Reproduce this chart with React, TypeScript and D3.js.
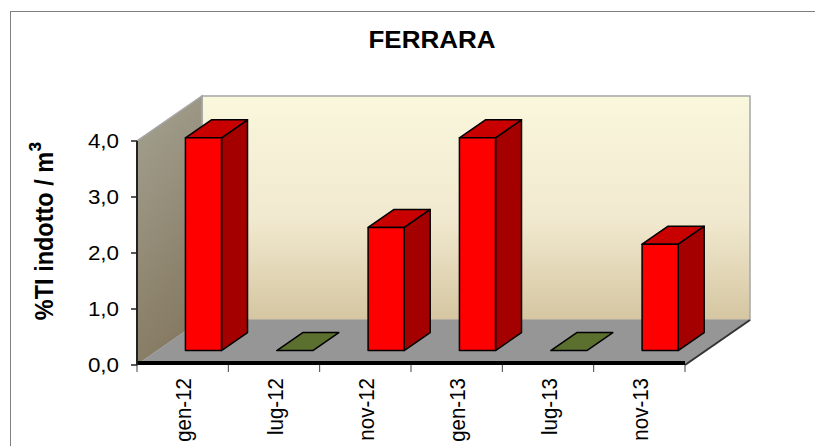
import React from "react";
import * as d3 from "d3";

const title = "FERRARA";
const yLabel = "%TI indotto / m³";
const categories = ["gen-12", "lug-12", "nov-12", "gen-13", "lug-13", "nov-13"];
const values = [3.8, 0, 2.2, 3.8, 0, 1.9];
const yTicks = [0, 1, 2, 3, 4];
const tickLabels = ["0,0", "1,0", "2,0", "3,0", "4,0"];

const W = 815;
const H = 446;

export default function App() {
  // plot geometry (front plane)
  const x0 = 137, x1 = 685;
  const yBottom = 365, yTop = 141;
  const depthDx = 65, depthDy = -45;

  const x = d3.scaleBand<string>().domain(categories).range([x0, x1]).padding(0);
  const y = d3.scaleLinear().domain([0, 4]).range([yBottom, yTop]);

  const barW = x.bandwidth() * 0.395;
  const dStart = 0.32;
  const dLen = 0.4;
  const fdx = dStart * depthDx, fdy = dStart * depthDy;
  const bdx = dLen * depthDx, bdy = dLen * depthDy;

  const line = d3.line();

  const backWall: [number, number][] = [
    [x0 + depthDx, yTop + depthDy],
    [x1 + depthDx, yTop + depthDy],
    [x1 + depthDx, yBottom + depthDy],
    [x0 + depthDx, yBottom + depthDy],
  ];
  const sideWall: [number, number][] = [
    [x0, yBottom],
    [x0, yTop],
    [x0 + depthDx, yTop + depthDy],
    [x0 + depthDx, yBottom + depthDy],
  ];
  const floor: [number, number][] = [
    [x0, yBottom],
    [x1, yBottom],
    [x1 + depthDx, yBottom + depthDy],
    [x0 + depthDx, yBottom + depthDy],
  ];

  const font = "Arial, 'Liberation Sans', Helvetica, sans-serif";
  const labelMain = yLabel.slice(0, -1);
  const labelSup = yLabel.slice(-1);

  return (
    <svg
      width={W}
      height={H}
      style={{ position: "absolute", left: 0, top: 0, background: "#fff" }}
    >
      <defs>
        <linearGradient id="backGrad" x1="0" y1="0" x2="0" y2="1">
          <stop offset="0" stopColor="#f9f7dc" />
          <stop offset="0.55" stopColor="#f1e9cf" />
          <stop offset="1" stopColor="#d5c6a1" />
        </linearGradient>
        <linearGradient id="sideGrad" x1="0" y1="0" x2="0.3" y2="1">
          <stop offset="0" stopColor="#a4a292" />
          <stop offset="1" stopColor="#867a62" />
        </linearGradient>
      </defs>

      {/* outer chart border */}
      <rect x={10.5} y={11.5} width={900} height={600} fill="none" stroke="#808080" strokeWidth={1} />

      {/* title */}
      <text
        transform="translate(432, 48) scale(1.13, 1)"
        textAnchor="middle"
        fontFamily={font}
        fontWeight="bold"
        fontSize={23}
      >
        {title}
      </text>

      {/* walls */}
      <path d={line(backWall)! + "Z"} fill="url(#backGrad)" stroke="#a6a6a6" strokeWidth={1.5} />
      <path d={line(sideWall)! + "Z"} fill="url(#sideGrad)" stroke="#a6a6a6" strokeWidth={1.5} />
      <path d={line(floor)! + "Z"} fill="#969696" stroke="none" />
      {/* floor right edge */}
      <path
        d={line([[x1, yBottom], [x1 + depthDx, yBottom + depthDy]])!}
        stroke="#333"
        strokeWidth={2}
        fill="none"
      />
      {/* floor front edge */}
      <path d={line([[x0, yBottom - 2], [x1, yBottom - 2]])!} stroke="#000" strokeWidth={4} fill="none" />

      {/* y axis */}
      <path d={line([[x0, yTop], [x0, yBottom]])!} stroke="#222" strokeWidth={2} fill="none" />
      {yTicks.map((t, i) => (
        <g key={t}>
          <path d={line([[x0 - 6, y(t)], [x0, y(t)]])!} stroke="#222" strokeWidth={1.5} />
          <text
            transform={`translate(119, ${y(t)}) scale(1.12, 1)`}
            dy="0.35em"
            textAnchor="end"
            fontFamily={font}
            fontSize={20}
            fill="#000"
          >
            {tickLabels[i]}
          </text>
        </g>
      ))}

      {/* y label */}
      <text
        transform={`translate(53, ${231}) rotate(-90) scale(1, 1.12)`}
        textAnchor="middle"
        fontFamily={font}
        fontWeight="bold"
        fontSize={23.5}
      >
        {labelMain}
        <tspan fontSize={30} dy={-1}>{labelSup}</tspan>
      </text>

      {/* category ticks */}
      {categories.concat(["__end"]).map((c, i) => {
        const xx = i < categories.length ? (x(c) as number) : x1;
        return <path key={c} d={line([[xx, yBottom], [xx, yBottom + 7]])!} stroke="#444" strokeWidth={1} />;
      })}

      {/* category labels */}
      {categories.map((c) => {
        const cx = (x(c) as number) + x.bandwidth() / 2;
        return (
          <text
            key={c}
            transform={`translate(${cx + 1}, ${378}) rotate(-90) scale(1, 1.08)`}
            dy="0.35em"
            textAnchor="end"
            fontFamily={font}
            fontSize={20.5}
          >
            {c}
          </text>
        );
      })}

      {/* bars */}
      {categories.map((c, i) => {
        const v = values[i];
        const cx = (x(c) as number) + x.bandwidth() / 2;
        const left = cx - barW / 2 + fdx;
        const right = left + barW;
        const bottom = yBottom + fdy;
        const h = y(0) - y(v);
        const top = bottom - h;
        if (v <= 0) {
          const flat: [number, number][] = [
            [left, bottom],
            [right, bottom],
            [right + bdx, bottom + bdy],
            [left + bdx, bottom + bdy],
          ];
          return (
            <path key={c} d={line(flat)! + "Z"} fill="#5b6f2e" stroke="#000" strokeWidth={1.5} strokeLinejoin="round" />
          );
        }
        const front: [number, number][] = [
          [left, bottom],
          [right, bottom],
          [right, top],
          [left, top],
        ];
        const side: [number, number][] = [
          [right, bottom],
          [right + bdx, bottom + bdy],
          [right + bdx, top + bdy],
          [right, top],
        ];
        const topFace: [number, number][] = [
          [left, top],
          [right, top],
          [right + bdx, top + bdy],
          [left + bdx, top + bdy],
        ];
        return (
          <g key={c} stroke="#000" strokeWidth={1.5} strokeLinejoin="round">
            <path d={line(side)! + "Z"} fill="#a40000" />
            <path d={line(topFace)! + "Z"} fill="#c80000" />
            <path d={line(front)! + "Z"} fill="#ff0000" />
          </g>
        );
      })}
    </svg>
  );
}
